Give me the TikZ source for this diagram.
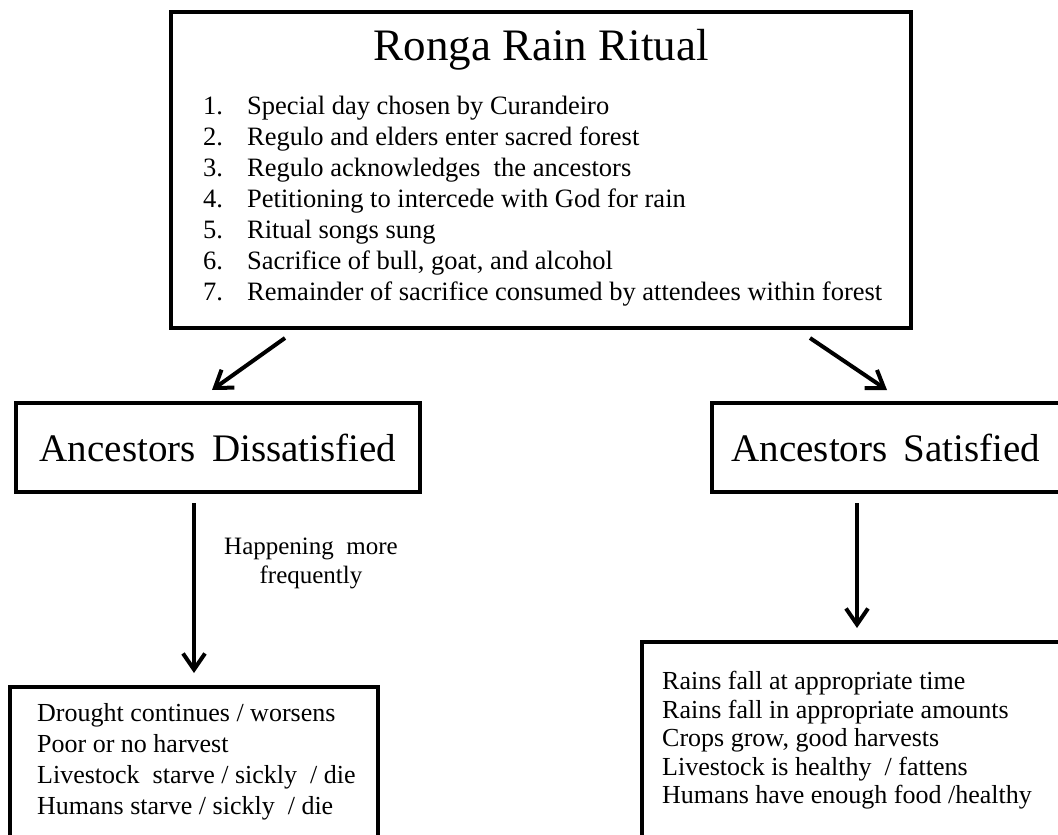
\documentclass[tikz,border=0pt]{standalone}
\usepackage{fontspec}
\setmainfont{Liberation Serif}
\usetikzlibrary{arrows.meta}
\begin{document}
\begin{tikzpicture}[x=1pt,y=-1pt,
  box/.style={draw, line width=3.2pt, inner sep=0pt},
  arr/.style={line width=4pt, -{Straight Barb[length=16pt,width=22pt,line width=4pt]}},
  txt/.style={inner sep=0pt, align=left, anchor=north west}]
\useasboundingbox[fill=white] (0,0) rectangle (1058,835);
% boxes
\node[box, line width=3.8pt, minimum width=740pt, minimum height=316pt] (top) at (541,170) {};
\node[box, minimum width=404pt, minimum height=89pt, font=\fontsize{39}{44}\selectfont] (dis) at (218,447.5) {Ancestors\ \,Dissatisfied};
\node[box, minimum width=348pt, minimum height=89pt, font=\fontsize{39}{44}\selectfont] (sat) at (886,447.5) {Ancestors\ \,Satisfied};
\node[box, minimum width=368pt, minimum height=170pt] (bad) at (194,772) {};
\node[box, minimum width=428pt, minimum height=210pt] (good) at (856,747) {};
% texts
\node[font=\fontsize{45}{54}\selectfont] (title) at (541,50) {Ronga Rain Ritual};
\node[txt, font=\fontsize{26.5}{31}\selectfont] (list) at (203,96) {%
\makebox[44pt][l]{1.}Special\ day\ chosen\ by\ Curandeiro\\
\makebox[44pt][l]{2.}Regulo and elders\ enter\ sacred\ forest\\
\makebox[44pt][l]{3.}Regulo acknowledges\ \ the ancestors\\
\makebox[44pt][l]{4.}Petitioning to intercede\ with God for rain\\
\makebox[44pt][l]{5.}Ritual\ songs\ sung\\
\makebox[44pt][l]{6.}Sacrifice\ of bull, goat,\ and alcohol\\
\makebox[44pt][l]{7.}Remainder\ of sacrifice\ consumed\ by\ attendees\ within\ forest};
\node[inner sep=0pt, align=center, anchor=north, font=\fontsize{25}{29}\selectfont] (freq) at (311,538) {Happening\ \ more\\frequently};
\node[txt, font=\fontsize{26}{31}\selectfont] (badtxt) at (37,703) {%
Drought continues\ / worsens\\
Poor or no harvest\\
Livestock\ \ starve / sickly\ \ / die\\
Humans\ starve / sickly\ \ / die};
\node[txt, font=\fontsize{26}{28.5}\selectfont] (goodtxt) at (662,671) {%
Rains\ fall at appropriate\ time\\
Rains\ fall in appropriate\ amounts\\
Crops grow, good harvests\\
Livestock\ is healthy\ \ / fattens\\
Humans\ have\ enough\ food /healthy};
% connector end points
\coordinate (a1s) at (285,338);
\coordinate (a1e) at (212,390);
\coordinate (a2s) at (810,338);
\coordinate (a2e) at (887,390);
\coordinate (a3s) at (194,503);
\coordinate (a3e) at (194,673);
\coordinate (a4s) at (857,503);
\coordinate (a4e) at (857,628);
\draw[arr] (a1s) -- (a1e);
\draw[arr] (a2s) -- (a2e);
\draw[arr] (a3s) -- (a3e);
\draw[arr] (a4s) -- (a4e);
\end{tikzpicture}
\end{document}
